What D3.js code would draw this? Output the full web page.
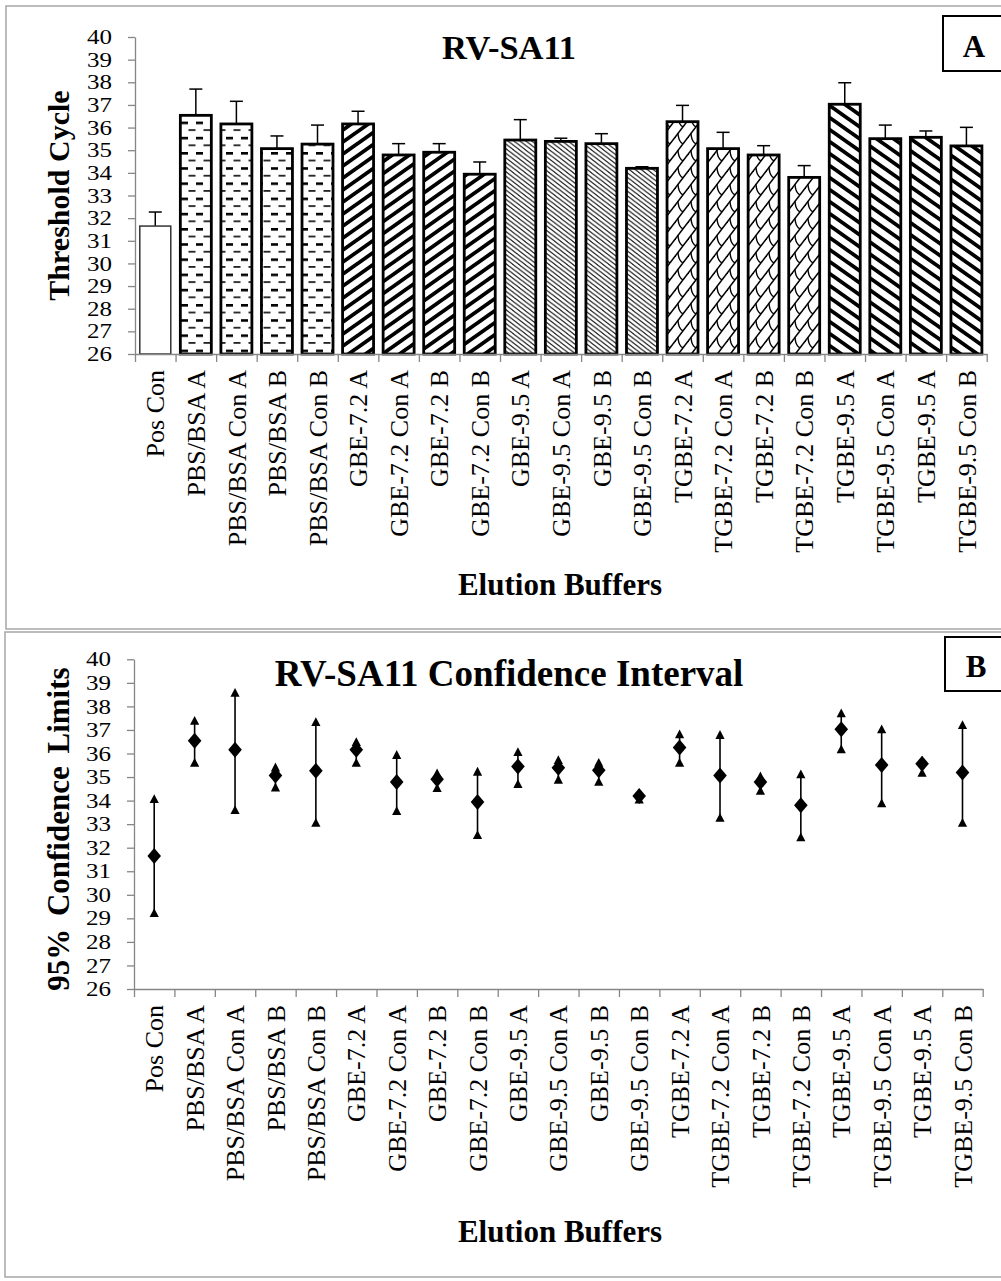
<!DOCTYPE html>
<html><head><meta charset="utf-8">
<script src="https://cdn.jsdelivr.net/npm/d3@7"></script>
<style>
html,body{margin:0;padding:0;background:#fff;}
svg{display:block;}
text{font-family:"Liberation Serif","Times New Roman",serif;fill:#000;}
</style></head><body>
<svg id="fig" width="1001" height="1281"></svg>
<script>
// Elution buffers tested (order as plotted)
const categories = ["Pos Con","PBS/BSA A","PBS/BSA Con A","PBS/BSA B","PBS/BSA Con B",
  "GBE-7.2 A","GBE-7.2 Con A","GBE-7.2 B","GBE-7.2 Con B",
  "GBE-9.5 A","GBE-9.5 Con A","GBE-9.5 B","GBE-9.5 Con B",
  "TGBE-7.2 A","TGBE-7.2 Con A","TGBE-7.2 B","TGBE-7.2 Con B",
  "TGBE-9.5 A","TGBE-9.5 Con A","TGBE-9.5 A","TGBE-9.5 Con B"];
// buffer family of each bar (selects the fill pattern)
const bufferFamily = ["pos","pbs","pbs","pbs","pbs",
  "gbe72","gbe72","gbe72","gbe72",
  "gbe95","gbe95","gbe95","gbe95",
  "tgbe72","tgbe72","tgbe72","tgbe72",
  "tgbe95","tgbe95","tgbe95","tgbe95"];
// mean threshold cycle (Ct)
const meanCt = [31.65,36.54,36.16,35.07,35.27,36.16,34.79,34.91,33.94,
  35.45,35.39,35.29,34.20,36.26,35.07,34.79,33.80,37.03,35.51,35.57,35.19];
// standard deviation shown as upper error bar
const sdCt = [0.62,1.16,1.00,0.56,0.84,0.56,0.50,0.38,0.54,
  0.90,0.14,0.44,0.07,0.72,0.72,0.41,0.52,0.95,0.60,0.28,0.82];
// 95% confidence limits
const ciUpper = [34.07,37.39,38.58,35.41,37.34,36.49,35.94,35.16,35.23,
  36.06,35.72,35.61,34.31,36.82,36.79,35.03,35.12,37.71,37.03,35.69,37.21];
const ciLower = [29.23,35.61,33.60,34.56,33.06,35.61,33.56,34.53,32.54,
  34.70,34.89,34.80,34.05,35.61,33.27,34.42,32.44,36.18,33.89,35.18,33.06];
const yTickValues = d3.range(26, 41);

const svg = d3.select("#fig");
svg.append("rect").attr("width",1001).attr("height",1281).attr("fill","#fff");
const defs = svg.append("defs");
const AXIS = "#868686";

// ---------- fill patterns ----------
function tile(id, w, h) {
  const p = defs.append("pattern").attr("id", id)
    .attr("patternUnits","userSpaceOnUse").attr("width", w).attr("height", h);
  p.append("rect").attr("width", w).attr("height", h).attr("fill", "#fff");
  return p;
}
function diagonal(id, hp, vp, sw, color, up) {
  const p = tile(id, hp, vp), r = vp / hp;
  for (const k of [-1, 0, 1]) {
    const f = x => up ? vp * (1 + k) - r * x : vp * k + r * x;
    p.append("line").attr("x1", -2).attr("y1", f(-2)).attr("x2", hp + 2).attr("y2", f(hp + 2))
      .attr("stroke", color).attr("stroke-width", sw);
  }
}
// dashed horizontal
(function(){
  const p = tile("pbs", 15, 15.2);
  p.append("rect").attr("x",1).attr("y",0).attr("width",7).attr("height",2.6).attr("fill","#000");
  p.append("rect").attr("x",8.5).attr("y",7.6).attr("width",7).attr("height",1.8).attr("fill","#222");
  p.append("rect").attr("x",-6.5).attr("y",7.6).attr("width",7).attr("height",1.8).attr("fill","#222");
})();
diagonal("gbe72", 17, 12, 3.8, "#000", true);
diagonal("gbe95", 6, 4.6, 1.2, "#1a1a1a", false);
diagonal("tgbe95", 17, 12, 3.8, "#000", false);
// shingle
(function(){
  const hp = 13, vp = 17, r = vp / hp;
  const p = tile("tgbe72", hp, vp);
  for (const k of [-1, 0, 1]) {
    const f = x => vp * (1 + k) - r * x;
    p.append("line").attr("x1", -2).attr("y1", f(-2)).attr("x2", hp + 2).attr("y2", f(hp + 2))
      .attr("stroke","#000").attr("stroke-width",1.5);
  }
  for (const k of [-1, 0]) {
    const a = 2, d = 5;
    const x1 = a, y1 = vp * (1 + k) - r * a;
    const x2 = a + d, y2 = vp * (2 + k) - r * (a + d);
    p.append("path").attr("d", `M${x1},${y1} Q${x1 + 0.5},${(y1 + y2) / 2 + 3} ${x2},${y2}`)
      .attr("fill","none").attr("stroke","#000").attr("stroke-width",1.4);
    p.append("path").attr("d", `M${x1 + hp},${y1} Q${x1 + hp + 0.5},${(y1 + y2) / 2 + 3} ${x2 + hp},${y2}`)
      .attr("fill","none").attr("stroke","#000").attr("stroke-width",1.4);
  }
})();
const fillOf = f => f === "pos" ? "#fff" : `url(#${f})`;

// ---------- shared helpers ----------
function frame(x, y, w, h) {
  svg.append("rect").attr("x",x).attr("y",y).attr("width",w).attr("height",h)
    .attr("fill","none").attr("stroke","#a6a6a6").attr("stroke-width",1.5);
}
function letterBox(x, y, h, letter, baseline) {
  svg.append("rect").attr("x",x).attr("y",y).attr("width",80).attr("height",h)
    .attr("fill","#fff").attr("stroke","#000").attr("stroke-width",2);
  svg.append("text").attr("x",x + 31).attr("y",baseline).attr("text-anchor","middle")
    .attr("font-size",31).attr("font-weight","bold").text(letter);
}
function axes(g, x, y, x0, x1, yBottom) {
  const idx = d3.scaleLinear().domain([0, categories.length]).range([x0, x1]);
  g.append("g").attr("transform",`translate(0,${yBottom})`)
    .call(d3.axisBottom(idx).tickValues(d3.range(0, categories.length + 1)).tickSize(8).tickSizeOuter(0).tickFormat(""))
    .call(s => s.selectAll("path,line").attr("stroke", AXIS).attr("stroke-width",1.3));
  const lab = g.append("g").attr("transform",`translate(0,${yBottom})`)
    .call(d3.axisBottom(x).tickSize(0).tickFormat((d, i) => categories[i]));
  lab.select(".domain").remove();
  lab.selectAll("text").attr("transform","rotate(-90)").attr("x",-16).attr("y",0)
    .attr("dy","0.35em").attr("text-anchor","end")
    .attr("font-family","Liberation Serif").attr("font-size",26).attr("fill","#000");
  const ya = g.append("g").attr("transform",`translate(${x0},0)`)
    .call(d3.axisLeft(y).tickValues(yTickValues).tickSize(7).tickSizeOuter(0).tickPadding(0))
    .call(s => s.selectAll("path,line").attr("stroke", AXIS).attr("stroke-width",1.3));
  // tick numbers set tightly, slightly condensed vertically
  ya.selectAll(".tick text")
    .attr("x", null).attr("dy", null)
    .attr("transform", "translate(-23,0) scale(1,0.8)")
    .attr("dominant-baseline", "central")
    .attr("font-family","Liberation Serif").attr("font-size",25).attr("fill","#000");
}

// ================= Panel A: bar chart =================
frame(6, 6, 1010, 623);
letterBox(943, 16, 55, "A", 57);
{
  const x0 = 135, x1 = 986.7, yTop = 37, yBottom = 354;
  const x = d3.scaleBand().domain(d3.range(categories.length)).range([x0, x1])
    .paddingInner(0.236).paddingOuter(0.118);
  const y = d3.scaleLinear().domain([26, 40]).range([yBottom, yTop]);
  const g = svg.append("g");

  g.append("text").attr("x",509).attr("y",59).attr("text-anchor","middle")
    .attr("font-size",34.5).attr("font-weight","bold").text("RV-SA11");

  const bars = g.selectAll("g.bar").data(meanCt).join("g").attr("class","bar");
  bars.append("line")
    .attr("x1",(d,i) => x(i) + x.bandwidth()/2).attr("x2",(d,i) => x(i) + x.bandwidth()/2)
    .attr("y1", d => y(d)).attr("y2",(d,i) => y(d + sdCt[i]))
    .attr("stroke","#000").attr("stroke-width",1.5);
  bars.append("line")
    .attr("x1",(d,i) => x(i) + x.bandwidth()/2 - 6.5).attr("x2",(d,i) => x(i) + x.bandwidth()/2 + 6.5)
    .attr("y1",(d,i) => y(d + sdCt[i])).attr("y2",(d,i) => y(d + sdCt[i]))
    .attr("stroke","#000").attr("stroke-width",1.5);
  bars.append("rect")
    .attr("x",(d,i) => x(i)).attr("width", x.bandwidth())
    .attr("y", d => y(d)).attr("height", d => yBottom - y(d))
    .attr("fill",(d,i) => fillOf(bufferFamily[i]))
    .attr("stroke",(d,i) => bufferFamily[i] === "pos" ? "#333" : "#000")
    .attr("stroke-width",(d,i) => bufferFamily[i] === "pos" ? 1.5 : 2.8);

  axes(g, x, y, x0, x1, yBottom);

  g.append("text").attr("transform",`translate(69,${(yTop + yBottom)/2}) rotate(-90)`)
    .attr("text-anchor","middle").attr("font-size",30).attr("font-weight","bold").text("Threshold Cycle");
  g.append("text").attr("x",560).attr("y",595).attr("text-anchor","middle")
    .attr("font-size",31).attr("font-weight","bold").text("Elution Buffers");
}

// ================= Panel B: confidence intervals =================
frame(5, 632, 1010, 645);
letterBox(945, 637, 54, "B", 677);
{
  const x0 = 134, x1 = 982.7, yTop = 659.3, yBottom = 989;
  const x = d3.scaleBand().domain(d3.range(categories.length)).range([x0, x1])
    .paddingInner(0.236).paddingOuter(0.118);
  const y = d3.scaleLinear().domain([26, 40]).range([yBottom, yTop]);
  const g = svg.append("g");
  const cx = i => x(i) + x.bandwidth()/2;

  g.append("text").attr("x",509).attr("y",686).attr("text-anchor","middle")
    .attr("font-size",37).attr("font-weight","bold").text("RV-SA11 Confidence Interval");

  axes(g, x, y, x0, x1, yBottom);

  const pts = g.selectAll("g.ci").data(meanCt).join("g").attr("class","ci");
  pts.append("line").attr("x1",(d,i) => cx(i)).attr("x2",(d,i) => cx(i))
    .attr("y1",(d,i) => y(ciLower[i])).attr("y2",(d,i) => y(ciUpper[i]))
    .attr("stroke","#000").attr("stroke-width",1.6);
  const tri = "M0,-4.8L4.6,4L-4.6,4Z";
  pts.append("path").attr("d",tri).attr("transform",(d,i) => `translate(${cx(i)},${y(ciUpper[i])})`);
  pts.append("path").attr("d",tri).attr("transform",(d,i) => `translate(${cx(i)},${y(ciLower[i])})`);
  pts.append("path").attr("d","M0,-8L6.8,0L0,8L-6.8,0Z")
    .attr("transform",(d,i) => `translate(${cx(i)},${y(d)})`);

  g.append("text").attr("transform",`translate(69,${(yTop + yBottom)/2 + 5}) rotate(-90)`)
    .attr("text-anchor","middle").attr("font-size",31).attr("font-weight","bold")
    .attr("word-spacing",5).text("95% Confidence Limits");
  g.append("text").attr("x",560).attr("y",1242).attr("text-anchor","middle")
    .attr("font-size",31).attr("font-weight","bold").text("Elution Buffers");
}
</script>
</body></html>
